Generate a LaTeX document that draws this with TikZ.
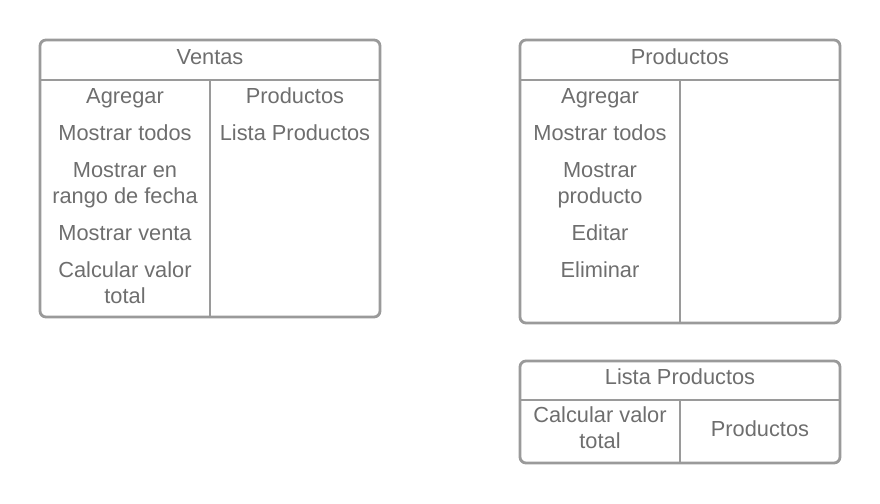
\documentclass[tikz,border=0pt]{standalone}
\usepackage{fontspec}
\setmainfont{Liberation Sans}
\definecolor{linegray}{HTML}{9A9A9A}
\definecolor{textgray}{HTML}{6E6E6E}
\begin{document}
\begin{tikzpicture}[x=1pt,y=-1pt,
  frame/.style={draw=linegray,line width=2.8pt,rounded corners=6pt},
  sep/.style={draw=linegray,line width=2.8pt},
  lbl/.style={text=textgray,font=\fontsize{21.8}{26}\selectfont,anchor=base,inner sep=0pt,align=center}]
\useasboundingbox (0,0) rectangle (880,503);
% Ventas
\draw[frame] (40,40) rectangle (380,317);
\draw[sep] (40,80) -- (380,80);
\draw[sep] (210,80) -- (210,317);
\node[lbl] (vT) at (210,64.5) {Ventas};
\node[lbl] (v1) at (125,103) {Agregar};
\node[lbl] (v2) at (125,140) {Mostrar todos};
\node[lbl] (v3) at (125,203) {Mostrar en\\rango de fecha};
\node[lbl] (v4) at (125,240) {Mostrar venta};
\node[lbl] (v5) at (125,303) {Calcular valor\\total};
\node[lbl] (v6) at (295,103) {Productos};
\node[lbl] (v7) at (295,140) {Lista Productos};
% Productos
\draw[frame] (520,40) rectangle (840,323);
\draw[sep] (520,80) -- (840,80);
\draw[sep] (680,80) -- (680,323);
\node[lbl] (pT) at (680,64.5) {Productos};
\node[lbl] (p1) at (600,103) {Agregar};
\node[lbl] (p2) at (600,140) {Mostrar todos};
\node[lbl] (p3) at (600,203) {Mostrar\\producto};
\node[lbl] (p4) at (600,240.5) {Editar};
\node[lbl] (p5) at (600,277.5) {Eliminar};
% Lista Productos
\draw[frame] (520,361) rectangle (840,463);
\draw[sep] (520,400) -- (840,400);
\draw[sep] (680,400) -- (680,463);
\node[lbl] (lT) at (680,384.5) {Lista Productos};
\node[lbl] (l1) at (600,448.5) {Calcular valor\\total};
\node[lbl] (l2) at (760,436) {Productos};
\end{tikzpicture}
\end{document}
